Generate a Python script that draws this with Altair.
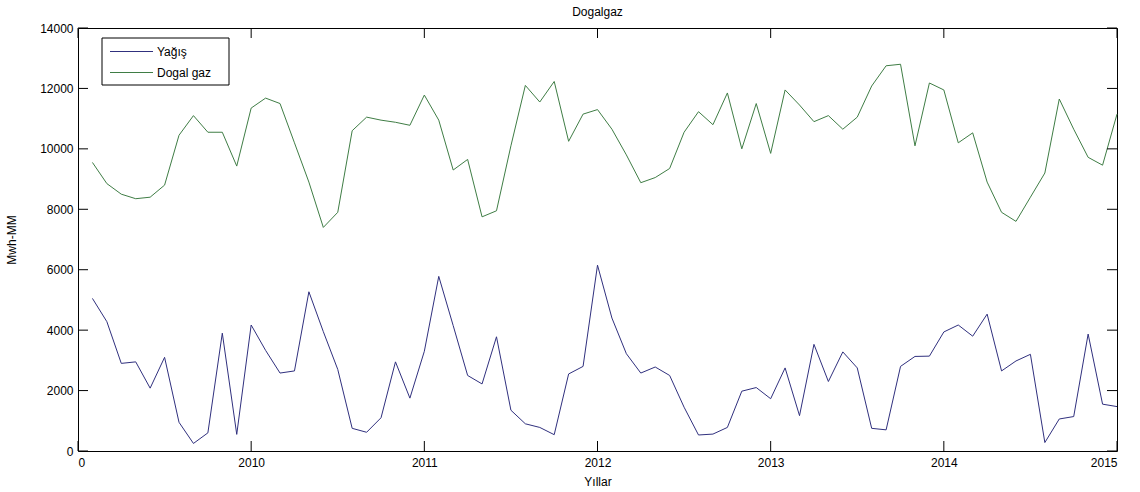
import altair as alt
import pandas as pd

# Monthly series, Feb 2009 .. Jan 2015
start_month = "2009-02-01"
n_months = 72

yagis = [
    5050, 4280, 2900, 2950, 2080, 3100, 950, 250, 600, 3900, 550, 4170,
    3330, 2580, 2650, 5270, 3950, 2700, 750, 620, 1100, 2950, 1750, 3300,
    5780, 4150, 2500, 2220, 3780, 1350, 900, 780, 540, 2550, 2800, 6150,
    4400, 3220, 2580, 2780, 2500, 1450, 530, 560, 780, 1980, 2100, 1730,
    2750, 1170, 3530, 2300, 3280, 2750, 750, 700, 2800, 3130, 3140, 3940,
    4170, 3800, 4530, 2650, 2980, 3200, 280, 1060, 1140, 3870, 1550, 1470,
]

dogalgaz = [
    9550, 8850, 8500, 8350, 8400, 8800, 10450, 11100, 10550, 10550, 9430, 11350,
    11680, 11500, 10200, 8900, 7400, 7900, 10600, 11050, 10950, 10880, 10780, 11780,
    10950, 9300, 9650, 7750, 7950, 10100, 12100, 11550, 12230, 10250, 11150, 11300,
    10650, 9800, 8880, 9050, 9350, 10550, 11230, 10800, 11850, 10000, 11500, 9850,
    11950, 11450, 10900, 11100, 10650, 11050, 12080, 12750, 12800, 10100, 12180, 11950,
    10200, 10530, 8900, 7900, 7600, 8400, 9200, 11650, 10650, 9720, 9460, 11150,
]

series_names = ["Yağış", "Dogal gaz"]
series_colors = ["#30307e", "#3f7d45"]

x_ticks = [2009, 2010, 2011, 2012, 2013, 2014, 2015]
x_tick_labels = ["0", "2010", "2011", "2012", "2013", "2014", "2015"]
y_ticks = [0, 2000, 4000, 6000, 8000, 10000, 12000, 14000]

W, H = 1039, 423
TICK = 10
FONT = "Liberation Sans"

months = pd.date_range(start_month, periods=n_months, freq="MS")
t = months.year + (months.month - 1) / 12.0
df = pd.concat([
    pd.DataFrame({"t": t, "value": yagis, "series": series_names[0]}),
    pd.DataFrame({"t": t, "value": dogalgaz, "series": series_names[1]}),
])

label_expr = "".join(
    f"datum.value == {v} ? '{lab}' : " for v, lab in zip(x_ticks, x_tick_labels)
) + "''"

x_enc = alt.X(
    "t:Q",
    scale=alt.Scale(domain=[x_ticks[0], x_ticks[-1]], nice=False, zero=False),
    axis=alt.Axis(values=x_ticks, labelExpr=label_expr, title="Yıllar",
                  ticks=False, domain=False, grid=False,
                  labelPadding=6, titlePadding=8),
)
y_enc = alt.Y(
    "value:Q",
    scale=alt.Scale(domain=[y_ticks[0], y_ticks[-1]], nice=False),
    axis=alt.Axis(values=y_ticks, format="d", title="Mwh-MM",
                  ticks=False, domain=False, grid=False,
                  labelPadding=5, titlePadding=21),
)

lines = alt.Chart(df).mark_line(strokeWidth=1).encode(
    x=x_enc,
    y=y_enc,
    color=alt.Color("series:N",
                    scale=alt.Scale(domain=series_names, range=series_colors),
                    legend=None),
)

# inward-pointing tick marks on all four sides of the box
yt = pd.DataFrame({"value": y_ticks})
xt = pd.DataFrame({"t": x_ticks})
tick_left = alt.Chart(yt).mark_rule(color="black").encode(
    y="value:Q", x=alt.value(0), x2=alt.value(TICK))
tick_right = alt.Chart(yt).mark_rule(color="black").encode(
    y="value:Q", x=alt.value(W - TICK), x2=alt.value(W))
tick_bottom = alt.Chart(xt).mark_rule(color="black").encode(
    x="t:Q", y=alt.value(H - TICK), y2=alt.value(H))
tick_top = alt.Chart(xt).mark_rule(color="black").encode(
    x="t:Q", y=alt.value(0), y2=alt.value(TICK))

# legend box in the upper-left corner
one = pd.DataFrame({"k": [0]})
legend_box = alt.Chart(one).mark_rect(fill="white", stroke="black", strokeWidth=1).encode(
    x=alt.value(24), x2=alt.value(151), y=alt.value(10), y2=alt.value(57))
legend_layers = [legend_box]
for i, (name, col) in enumerate(zip(series_names, series_colors)):
    yy = 23.5 + 21 * i
    legend_layers.append(
        alt.Chart(one).mark_rule(color=col, strokeWidth=1).encode(
            x=alt.value(32), x2=alt.value(75), y=alt.value(yy)))
    legend_layers.append(
        alt.Chart(one).mark_text(text=name, align="left", baseline="middle",
                                 font=FONT, fontSize=12, color="black").encode(
            x=alt.value(79), y=alt.value(yy)))

chart = alt.layer(
    lines, tick_left, tick_right, tick_bottom, tick_top, *legend_layers
).properties(
    width=W,
    height=H,
    title=alt.TitleParams("Dogalgaz", font=FONT, fontSize=12, fontWeight="normal",
                          color="black", offset=3),
    autosize=alt.AutoSizeParams(type="none"),
    padding={"left": 78, "top": 28, "right": 1140 - 78 - W, "bottom": 492 - 28 - H},
).configure_view(
    stroke="black", strokeWidth=1
).configure_axis(
    labelFont=FONT, labelFontSize=12, labelColor="black",
    titleFont=FONT, titleFontSize=12, titleFontWeight="normal", titleColor="black",
)

chart.save("out.html", embed_options={"renderer": "svg", "actions": False})
